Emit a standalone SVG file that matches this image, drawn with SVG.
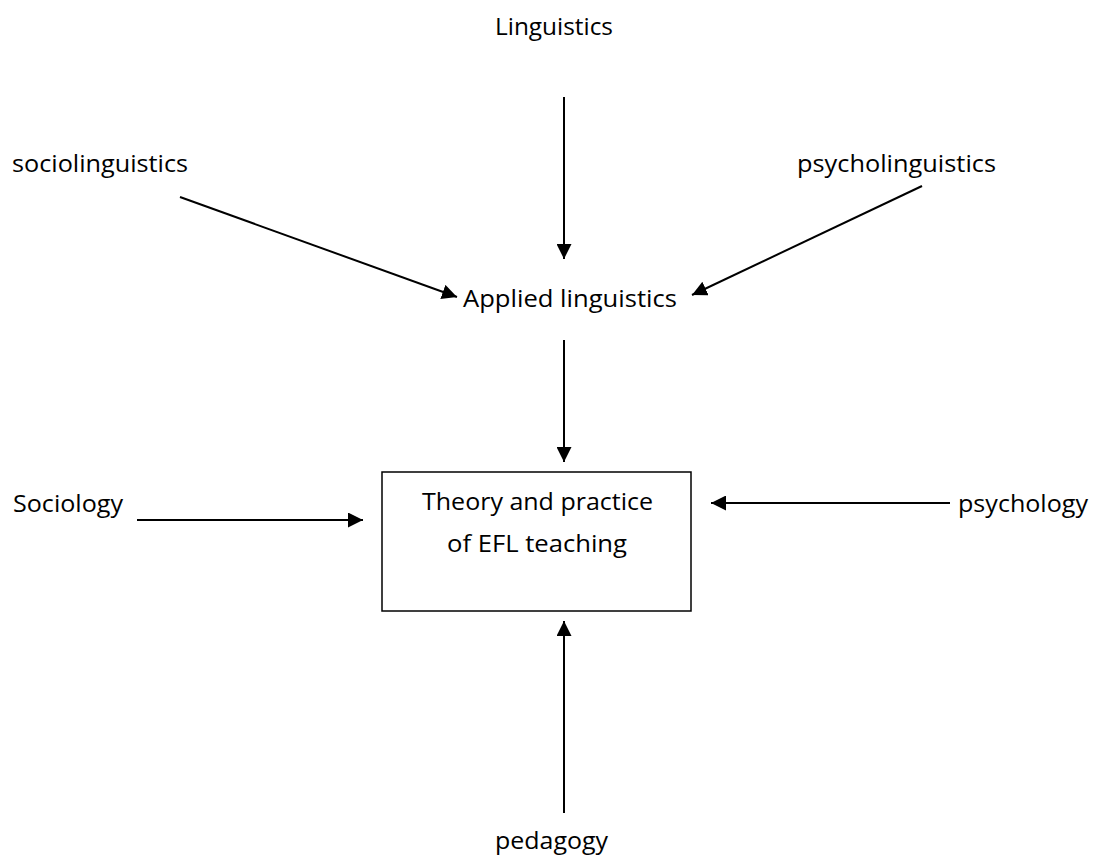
<svg xmlns="http://www.w3.org/2000/svg" width="1093" height="858" viewBox="0 0 1093 858">
  <style>
    .lbl { font-family: "Open Sans", "Liberation Sans", sans-serif; font-size: 23px; fill: #000; }
    .conn { stroke: #000; stroke-width: 2; fill: none; }
    .box { stroke: #000; stroke-width: 1.5; fill: #fff; }
  </style>
  <defs>
    <marker id="arrow" markerUnits="userSpaceOnUse" markerWidth="15" markerHeight="15" refX="15" refY="7.5" orient="auto" viewBox="0 0 15 15">
      <path d="M0,0 L15,7.5 L0,15 z" fill="#000"/>
    </marker>
  </defs>
  <rect width="1093" height="858" fill="#fff"/>

  <g id="connectors">
    <line class="conn" x1="564" y1="97" x2="564" y2="259" marker-end="url(#arrow)"/>
    <line class="conn" x1="180" y1="197" x2="457" y2="297" marker-end="url(#arrow)"/>
    <line class="conn" x1="922" y1="186" x2="692" y2="295" marker-end="url(#arrow)"/>
    <line class="conn" x1="564" y1="340" x2="564" y2="462" marker-end="url(#arrow)"/>
    <line class="conn" x1="137" y1="520" x2="363" y2="520" marker-end="url(#arrow)"/>
    <line class="conn" x1="950" y1="503" x2="711" y2="503" marker-end="url(#arrow)"/>
    <line class="conn" x1="564" y1="813" x2="564" y2="621" marker-end="url(#arrow)"/>
  </g>

  <g id="linguistics">
    <text class="lbl" x="495" y="35" textLength="118" lengthAdjust="spacingAndGlyphs">Linguistics</text>
  </g>
  <g id="sociolinguistics">
    <text class="lbl" x="12" y="172" textLength="176" lengthAdjust="spacingAndGlyphs">sociolinguistics</text>
  </g>
  <g id="psycholinguistics">
    <text class="lbl" x="797" y="172" textLength="199" lengthAdjust="spacingAndGlyphs">psycholinguistics</text>
  </g>
  <g id="applied-linguistics">
    <text class="lbl" x="463" y="307" textLength="214" lengthAdjust="spacingAndGlyphs">Applied linguistics</text>
  </g>
  <g id="efl-teaching">
    <rect class="box" x="382" y="472" width="309" height="139"/>
    <text class="lbl" x="422" y="510" textLength="231" lengthAdjust="spacingAndGlyphs">Theory and practice</text>
    <text class="lbl" x="447" y="552" textLength="180" lengthAdjust="spacingAndGlyphs">of EFL teaching</text>
  </g>
  <g id="sociology">
    <text class="lbl" x="13" y="512" textLength="110" lengthAdjust="spacingAndGlyphs">Sociology</text>
  </g>
  <g id="psychology">
    <text class="lbl" x="958" y="512" textLength="130" lengthAdjust="spacingAndGlyphs">psychology</text>
  </g>
  <g id="pedagogy">
    <text class="lbl" x="495" y="849" textLength="113" lengthAdjust="spacingAndGlyphs">pedagogy</text>
  </g>
</svg>
